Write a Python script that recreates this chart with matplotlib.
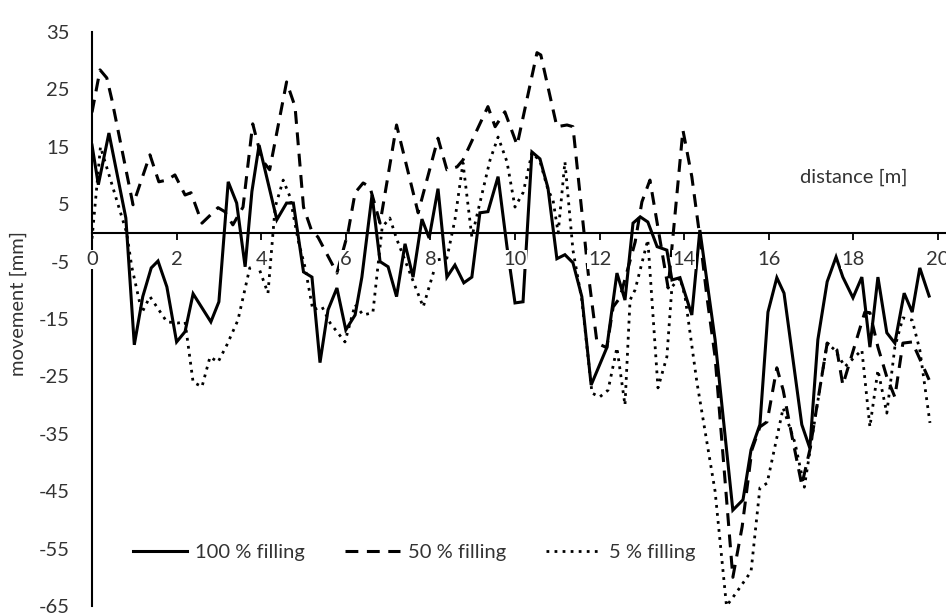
import matplotlib
matplotlib.use('Agg')
import matplotlib.pyplot as plt

plt.rcParams['font.family'] = ['Lato', 'DejaVu Sans']
plt.rcParams['axes.unicode_minus'] = False

# distance [m] / movement [mm] for the three filling levels
dist_100 = [0.0, 0.15, 0.4, 0.8, 1.0, 1.2, 1.4, 1.56, 1.77, 2.0,
            2.2, 2.39, 2.81, 3.0, 3.22, 3.42, 3.62, 3.78, 3.95, 4.37,
            4.6, 4.76, 5.0, 5.2, 5.39, 5.58, 5.79, 6.0, 6.22, 6.38,
            6.62, 6.81, 7.0, 7.2, 7.4, 7.59, 7.8, 7.97, 8.18, 8.39,
            8.58, 8.79, 8.98, 9.17, 9.36, 9.6, 9.81, 10.0, 10.19, 10.4,
            10.59, 10.78, 10.99, 11.18, 11.37, 11.58, 11.8, 12.17, 12.41, 12.6,
            12.79, 12.96, 13.14, 13.36, 13.59, 13.71, 13.9, 14.18, 14.37, 14.73,
            15.15, 15.39, 15.58, 15.79, 15.98, 16.19, 16.36, 16.78, 16.97, 17.16,
            17.38, 17.59, 17.75, 17.99, 18.2, 18.39, 18.58, 18.79, 18.98, 19.2,
            19.39, 19.57, 19.79]
move_100 = [15.3, 8.4, 17.4, 2.6, -19.5, -11.1, -6.1, -4.9, -9.4, -19.0,
            -17.2, -10.6, -15.5, -12.0, 8.9, 5.2, -5.9, 7.2, 15.3, 2.3,
            5.2, 5.2, -6.8, -7.7, -22.6, -13.4, -9.6, -16.9, -14.3, -7.7,
            6.6, -5.0, -5.9, -11.1, -1.9, -7.7, 2.4, -0.9, 7.7, -7.7,
            -5.6, -8.7, -7.7, 3.5, 3.7, 9.8, -2.4, -12.2, -12.0, 14.1,
            12.9, 7.8, -4.5, -3.8, -5.2, -11.1, -26.5, -20.0, -7.0, -11.7,
            1.7, 2.8, 1.9, -2.4, -3.0, -8.2, -7.8, -14.3, 0.5, -18.6,
            -48.3, -46.5, -37.8, -33.4, -13.8, -7.8, -10.5, -33.4, -37.5, -18.6,
            -8.5, -4.2, -7.7, -11.3, -7.7, -19.9, -7.7, -17.4, -19.2, -10.5,
            -13.8, -6.1, -11.0]

dist_50 = [0.0, 0.19, 0.35, 0.47, 0.97, 1.37, 1.58, 1.77, 1.96, 2.2,
           2.34, 2.6, 2.98, 3.14, 3.33, 3.57, 3.8, 4.02, 4.2, 4.6,
           4.8, 5.0, 5.2, 5.34, 5.79, 6.05, 6.22, 6.41, 6.57, 6.81,
           7.2, 7.71, 8.18, 8.39, 8.63, 8.77, 9.36, 9.53, 9.76, 10.05,
           10.52, 10.61, 10.99, 11.23, 11.37, 11.65, 11.73, 11.94, 12.17, 12.32,
           12.48, 12.84, 13.0, 13.19, 13.62, 13.97, 14.18, 14.37, 14.54, 14.73,
           15.15, 15.37, 15.6, 15.79, 15.96, 16.19, 16.34, 16.55, 16.78, 16.97,
           17.38, 17.61, 17.75, 18.27, 18.39, 18.58, 18.79, 18.98, 19.17, 19.39,
           19.79]
move_50 = [21.0, 28.4, 27.0, 23.2, 4.9, 13.6, 8.9, 9.2, 10.1, 6.6,
           7.0, 1.7, 4.4, 3.7, 1.4, 4.5, 19.0, 12.7, 11.0, 26.3,
           22.0, 4.5, 0.2, -0.7, -7.0, 0.0, 7.0, 8.7, 8.0, 1.7,
           18.8, 3.5, 16.5, 11.0, 11.5, 12.7, 22.0, 18.5, 21.1, 15.3,
           31.4, 31.0, 18.5, 18.8, 18.5, -1.2, -7.0, -19.2, -20.0, -12.9,
           -11.3, -1.6, 5.4, 9.2, -9.6, 17.9, 9.8, -0.7, -11.3, -21.6,
           -60.0, -51.2, -37.8, -33.8, -32.9, -23.5, -27.4, -35.5, -43.9, -37.8,
           -19.2, -20.4, -26.5, -13.8, -13.9, -19.9, -25.1, -28.6, -19.2, -19.0,
           -25.6]

dist_5 = [0.0, 0.2, 0.82, 0.94, 1.18, 1.37, 1.77, 2.03, 2.2, 2.39,
          2.6, 2.79, 2.98, 3.19, 3.45, 3.73, 3.92, 4.16, 4.33, 4.52,
          4.68, 4.87, 5.04, 5.22, 5.44, 5.63, 5.98, 6.22, 6.41, 6.64,
          6.86, 7.04, 7.21, 7.83, 8.16, 8.39, 8.58, 8.77, 8.98, 9.41,
          9.6, 9.81, 10.0, 10.19, 10.28, 10.4, 10.59, 10.78, 10.9, 11.02,
          11.18, 11.37, 11.58, 11.82, 12.0, 12.2, 12.41, 12.6, 12.72, 12.84,
          13.14, 13.38, 13.59, 13.71, 13.9, 14.02, 14.3, 14.73, 15.0, 15.2,
          15.58, 15.79, 15.96, 16.34, 16.62, 16.84, 17.1, 17.38, 17.56, 17.8,
          18.2, 18.39, 18.58, 18.79, 18.98, 19.17, 19.39, 19.57, 19.81]
move_5 = [-1.0, 15.0, 0.0, -5.9, -13.9, -11.1, -15.5, -15.7, -15.5, -26.0,
          -26.8, -21.6, -22.5, -19.5, -15.2, -6.1, -5.6, -10.5, 4.5, 9.2,
          6.3, -1.2, -6.1, -13.4, -12.9, -15.7, -19.0, -12.5, -14.3, -13.9,
          1.0, 2.6, -1.2, -12.9, -4.7, -4.4, 2.3, 12.2, -0.7, 12.7,
          16.7, 12.4, 4.5, 7.0, 9.8, 14.0, 12.5, 7.5, 5.7, 0.0,
          12.4, -3.0, -11.7, -27.9, -28.6, -27.4, -20.0, -30.0, -11.7, -9.9,
          -1.2, -27.0, -21.6, -9.4, -7.8, -11.1, -26.0, -45.0, -65.0, -63.0,
          -59.0, -44.4, -43.6, -30.5, -36.6, -44.3, -32.0, -19.2, -20.4, -23.3,
          -20.4, -33.8, -23.9, -31.4, -19.9, -14.8, -15.2, -20.4, -33.1]

x_ticks = [0, 2, 4, 6, 8, 10, 12, 14, 16, 18, 20]
y_ticks = [35, 25, 15, 5, -5, -15, -25, -35, -45, -55, -65]

text_col = '#333333'
fsize = 14.5

fig = plt.figure(figsize=(9.46, 6.15), dpi=100)
ax = fig.add_axes([92 / 946, 1 - 606 / 615, 1 - 92 / 946, 574 / 615])

ax.plot(dist_100, move_100, color='black', lw=2.2, solid_joinstyle='miter',
        label='100 % filling')
ax.plot(dist_50, move_50, color='black', lw=2.2, linestyle=(0, (4.2, 2.8)),
        label='50 % filling')
ax.plot(dist_5, move_5, color='black', lw=2.0, linestyle=(0, (1, 1.9)),
        label='5 % filling')

ax.set_xlim(0, 854 / 42.3)
ax.set_ylim(-65, 35)
ax.set_xticks(x_ticks)
ax.set_yticks(y_ticks)

# axes cross at the origin, like a spreadsheet chart
ax.spines['left'].set_position(('data', 0))
ax.spines['bottom'].set_position(('data', 0))
ax.spines['top'].set_visible(False)
ax.spines['right'].set_visible(False)
ax.spines['left'].set_linewidth(1.5)
ax.spines['bottom'].set_linewidth(1.5)
ax.set_axisbelow(False)

ax.tick_params(axis='x', direction='out', length=5, width=1.3, pad=8,
               labelsize=fsize, labelcolor=text_col)
ax.tick_params(axis='y', length=0, pad=16, labelsize=fsize, labelcolor=text_col)
for lbl in ax.get_xticklabels():
    lbl.set_bbox(dict(facecolor='white', edgecolor='none', pad=0.5))

ax.text(18.0, 9.6, 'distance [m]', ha='center', va='center',
        fontsize=fsize, color=text_col)
fig.text(18 / 946, 1 - 303 / 615, 'movement [mm]', rotation=90,
         ha='center', va='center', fontsize=fsize, color=text_col)

fig.legend(loc='center', bbox_to_anchor=(414 / 946, 1 - 552 / 615), ncol=3,
           frameon=False, fontsize=fsize, labelcolor=text_col,
           handlelength=2.7, handletextpad=0.4, columnspacing=2.0)

fig.savefig('out.png', dpi=100)
